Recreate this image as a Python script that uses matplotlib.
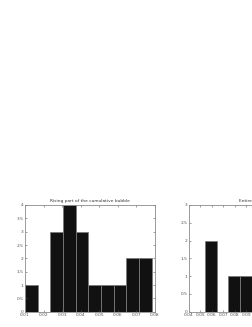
import matplotlib
matplotlib.use("Agg")
import matplotlib.pyplot as plt
import numpy as np

# left histogram: rising part
rise_counts = [1, 0, 3, 4, 3, 1, 1, 1, 2, 2]
rise_lo, rise_hi = 0.01, 0.0782
rise_xticks = [0.01, 0.02, 0.03, 0.04, 0.05, 0.06, 0.07, 0.08]
rise_yticks = [0, 0.5, 1, 1.5, 2, 2.5, 3, 3.5, 4]

# right histogram: entire bubble (cut off by the figure edge)
all_counts = [2, 0, 1, 1, 1, 0, 0, 0, 0, 0]
all_lo, all_step = 0.0539, 0.0102
all_xticks = [0.04, 0.05, 0.06, 0.07, 0.08, 0.09]
all_yticks = [0, 0.5, 1, 1.5, 2, 2.5, 3]

W, H = 253, 327
fig = plt.figure(figsize=(W / 100, H / 100), dpi=100)
fs = 3.2


def style(ax, xt, yt):
    ax.set_xticks(xt)
    ax.set_yticks(yt)
    ax.set_xticklabels(["%g" % v for v in xt])
    ax.set_yticklabels(["%g" % v for v in yt])
    ax.tick_params(direction="in", length=1.5, width=0.4, labelsize=fs,
                   pad=1, colors="#555555", top=True, right=True)
    for s in ax.spines.values():
        s.set_color("#8a8a8a")
        s.set_linewidth(0.6)


ax1 = fig.add_axes([25 / W, (H - 311.7) / H, 130 / W, 106.7 / H])
edges1 = np.linspace(rise_lo, rise_hi, len(rise_counts) + 1)
ax1.bar(edges1[:-1], rise_counts, width=np.diff(edges1), align="edge",
        color="#111111", edgecolor="#7a7a7a", linewidth=0.6)
ax1.set_xlim(0.01, 0.08)
ax1.set_ylim(0, 4)
style(ax1, rise_xticks, rise_yticks)
ax1.set_title("Rising part of the cumulative bubble", fontsize=fs, pad=2,
              color="#333333")

ax2 = fig.add_axes([189 / W, (H - 311.7) / H, 130 / W, 106.7 / H])
edges2 = all_lo + all_step * np.arange(len(all_counts) + 1)
ax2.bar(edges2[:-1], all_counts, width=all_step, align="edge",
        color="#111111", edgecolor="#7a7a7a", linewidth=0.6)
ax2.set_xlim(0.04, 0.04 + 130 / 1150)
ax2.set_ylim(0, 3)
style(ax2, all_xticks, all_yticks)
ax2.set_title("Entire bubble", fontsize=fs, pad=2, color="#333333")

fig.savefig("out.png", dpi=100)
